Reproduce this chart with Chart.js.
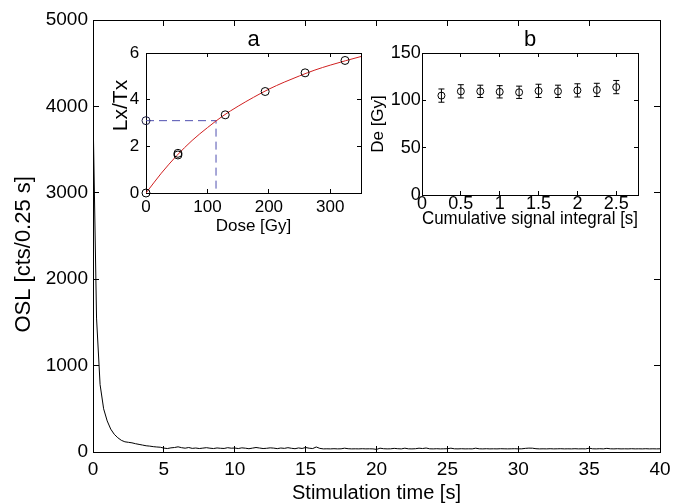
<!DOCTYPE html>
<html>
<head>
<meta charset="utf-8">
<script src="https://cdn.jsdelivr.net/npm/chart.js@4/dist/chart.umd.min.js"></script>
<style>
  html, body { margin: 0; padding: 0; background: #fff; }
  #wrap { position: relative; width: 673px; height: 504px; }
  #wrap canvas { position: absolute; left: 0; top: 0; }
</style>
</head>
<body>
<div id="wrap">
  <canvas id="mainChart" width="673" height="504"></canvas>
  <canvas id="insetA" width="673" height="504"></canvas>
  <canvas id="insetB" width="673" height="504"></canvas>
</div>
<script>
// main OSL decay curve, one value per 0.25 s channel (t = 0 ... 40 s)
const channelWidth = 0.25;
const oslCounts = [
  3950, 1550, 780, 500, 360, 265, 205, 165, 135, 118, 112, 106, 96, 88, 80, 72,
  68, 62, 58, 55, 45, 40, 48, 52, 60, 50, 44, 52, 42, 46, 40, 45,
  50, 44, 40, 47, 43, 41, 50, 44, 46, 40, 48, 44, 38, 45, 52, 46,
  40, 43, 48, 45, 39, 46, 42, 50, 43, 38, 47, 41, 52, 44, 40, 58,
  42, 36, 37, 36, 38, 36, 37, 44, 38, 36, 37, 36, 38, 36, 37, 36,
  30, 44, 38, 36, 37, 42, 38, 36, 44, 37, 36, 38, 44, 40, 46, 37,
  36, 38, 36, 37, 38, 44, 37, 36, 38, 36, 37, 36, 44, 37, 36, 38,
  36, 37, 36, 38, 37, 36, 37, 38, 36, 37, 42, 45, 44, 38, 36, 37,
  36, 38, 36, 37, 38, 36, 37, 36, 38, 36, 37, 36, 44, 37, 36, 38,
  36, 42, 37, 36, 38, 36, 37, 36, 38, 36, 37, 36, 38, 36, 37, 36,
  37
];
const timeTicks = [0, 5, 10, 15, 20, 25, 30, 35, 40];
const countTicks = [0, 1000, 2000, 3000, 4000, 5000];

// inset a: dose response
const regenDose = [0, 52, 52, 129, 194, 259, 324];
const regenLxTx = [0, 1.70, 1.63, 3.35, 4.35, 5.15, 5.68];
const fitDose = [0, 25, 50, 75, 100, 125, 150, 175, 200, 225, 250, 275, 300, 325, 350];
const fitLxTx = [0, 0.85, 1.6, 2.25, 2.8, 3.3, 3.72, 4.1, 4.45, 4.75, 5.02, 5.27, 5.48, 5.67, 5.85];
const naturalLxTx = 3.1;
const equivDose = 114;
const doseTicks = [0, 100, 200, 300];
const lxTicks = [0, 2, 4, 6];

// inset b: De vs integral
const integralTime = [0.25, 0.5, 0.75, 1.0, 1.25, 1.5, 1.75, 2.0, 2.25, 2.5];
const deValues = [105, 109.5, 109.5, 109, 108.5, 110, 109.5, 110.5, 111, 114];
const deErrors = [7, 7, 6.5, 6.5, 6.5, 7, 6.5, 7, 7, 7];
const integralTicks = [0, 0.5, 1, 1.5, 2, 2.5];
const deTicks = [0, 50, 100, 150];

const FONT = "'Liberation Sans', Arial, Helvetica, sans-serif";
Chart.defaults.font.family = FONT;
Chart.defaults.color = '#000';

// one axis of a boxed MATLAB-like frame, ticks pointing inward
function axis(o) {
  return {
    type: 'linear',
    position: o.pos,
    min: o.min,
    max: o.max,
    afterBuildTicks: s => { s.ticks = o.ticks.map(v => ({ value: v })); },
    afterFit: s => {
      if (s.isHorizontal()) s.height = o.size; else s.width = o.size;
      s.paddingLeft = s.paddingRight = s.paddingTop = s.paddingBottom = 0;
    },
    grid: {
      display: true, drawOnChartArea: false, drawTicks: true,
      tickLength: -o.tick, color: '#000', tickColor: '#000', lineWidth: 1
    },
    border: { display: true, color: '#000', width: 1 },
    ticks: {
      display: !!o.font, color: '#000', padding: o.pad || 0,
      font: o.font, maxRotation: 0, minRotation: 0, autoSkip: false,
      callback: v => String(v)
    },
    title: o.title ? {
      display: true, text: o.title, color: '#000',
      font: o.titleFont, padding: o.titlePad
    } : { display: false }
  };
}

const baseOpts = {
  responsive: false,
  animation: false,
  events: [],
  plugins: { legend: { display: false }, tooltip: { enabled: false } }
};

// main chart
new Chart(document.getElementById('mainChart'), {
  type: 'line',
  data: {
    datasets: [{
      data: oslCounts.map((v, i) => ({ x: i * channelWidth, y: v })),
      borderColor: '#000', borderWidth: 1, pointRadius: 0, tension: 0
    }]
  },
  options: {
    ...baseOpts,
    layout: { padding: { left: 0, top: 20, right: 13, bottom: 0 } },
    scales: {
      x: axis({ pos: 'bottom', min: 0, max: 40, ticks: timeTicks, size: 52, tick: 6, pad: 14.5,
        font: { size: 19, lineHeight: 1 },
        title: 'Stimulation time [s]', titleFont: { size: 20, lineHeight: 1 }, titlePad: { top: 0, bottom: 1 } }),
      x2: axis({ pos: 'top', min: 0, max: 40, ticks: timeTicks, size: 0, tick: 6 }),
      // trailing spaces push the label a little below the axis centre, as in the original
      y: axis({ pos: 'left', min: 0, max: 5000, ticks: countTicks, size: 93, tick: 6, pad: 11,
        font: { size: 19, lineHeight: 1 },
        title: 'OSL [cts/0.25 s]      ', titleFont: { size: 22, lineHeight: 1 }, titlePad: { top: 13, bottom: 0 } }),
      y2: axis({ pos: 'right', min: 0, max: 5000, ticks: countTicks, size: 0, tick: 6 })
    }
  }
});

// inset a
new Chart(document.getElementById('insetA'), {
  type: 'line',
  data: {
    datasets: [
      {
        data: regenDose.map((d, i) => ({ x: d, y: regenLxTx[i] })),
        showLine: false, pointStyle: 'circle', pointRadius: 4, pointBorderWidth: 1,
        pointBorderColor: '#000', pointBackgroundColor: 'rgba(0,0,0,0)', clip: false
      },
      {
        data: [{ x: 0, y: naturalLxTx }],
        showLine: false, pointStyle: 'circle', pointRadius: 4, pointBorderWidth: 1,
        pointBorderColor: '#1a1a40', pointBackgroundColor: 'rgba(0,0,0,0)', clip: false
      },
      {
        data: fitDose.map((d, i) => ({ x: d, y: fitLxTx[i] })),
        borderColor: '#d02020', borderWidth: 1, pointRadius: 0, cubicInterpolationMode: 'monotone'
      },
      {
        data: [{ x: 0, y: naturalLxTx }, { x: equivDose, y: naturalLxTx }, { x: equivDose, y: 0 }],
        borderColor: '#5050b0', borderWidth: 1, borderDash: [8, 5], pointRadius: 0, tension: 0
      }
    ]
  },
  options: {
    ...baseOpts,
    layout: { padding: { left: 0, top: 28, right: 312, bottom: 261 } },
    scales: {
      x: axis({ pos: 'bottom', min: 0, max: 350, ticks: doseTicks, size: 50, tick: 4, pad: 9.7,
        font: { size: 17, lineHeight: 1 },
        title: 'Dose [Gy]', titleFont: { size: 17, lineHeight: 1 }, titlePad: { top: 0, bottom: 8.5 } }),
      x2: axis({ pos: 'top', min: 0, max: 350, ticks: doseTicks, size: 25, tick: 4,
        title: 'a', titleFont: { size: 22, lineHeight: 1 }, titlePad: { top: 0.5, bottom: 0 } }),
      // leading spaces lift the label slightly above the axis centre
      y: axis({ pos: 'left', min: 0, max: 6, ticks: lxTicks, size: 146, tick: 4, pad: 10.7,
        font: { size: 17, lineHeight: 1 },
        title: '      Lx/Tx', titleFont: { size: 21, lineHeight: 1 }, titlePad: { top: 111, bottom: 0 } }),
      y2: axis({ pos: 'right', min: 0, max: 6, ticks: lxTicks, size: 0, tick: 4 })
    }
  }
});

// error bars for inset b, drawn through the chart's own scales
const errorBars = {
  id: 'errorBars',
  afterDatasetsDraw(chart) {
    const { ctx, scales: { x, y } } = chart;
    ctx.save();
    ctx.strokeStyle = '#000';
    ctx.lineWidth = 1;
    integralTime.forEach((t, i) => {
      const px = x.getPixelForValue(t);
      const lo = y.getPixelForValue(deValues[i] - deErrors[i]);
      const hi = y.getPixelForValue(deValues[i] + deErrors[i]);
      ctx.beginPath();
      ctx.moveTo(px, lo); ctx.lineTo(px, hi);
      ctx.moveTo(px - 3, lo); ctx.lineTo(px + 3, lo);
      ctx.moveTo(px - 3, hi); ctx.lineTo(px + 3, hi);
      ctx.stroke();
    });
    ctx.restore();
  }
};

new Chart(document.getElementById('insetB'), {
  type: 'line',
  data: {
    datasets: [{
      data: integralTime.map((t, i) => ({ x: t, y: deValues[i] })),
      showLine: false, pointStyle: 'circle', pointRadius: 3.5, pointBorderWidth: 1,
      pointBorderColor: '#000', pointBackgroundColor: 'rgba(0,0,0,0)', clip: false
    }]
  },
  options: {
    ...baseOpts,
    layout: { padding: { left: 360, top: 28, right: 35, bottom: 259 } },
    scales: {
      x: axis({ pos: 'bottom', min: 0, max: 2.78, ticks: integralTicks, size: 50, tick: 4, pad: 4,
        font: { size: 18, lineHeight: 1 },
        title: 'Cumulative signal integral [s]', titleFont: { size: 17.5, lineHeight: 1 }, titlePad: { top: 0, bottom: 17.5 } }),
      x2: axis({ pos: 'top', min: 0, max: 2.78, ticks: integralTicks, size: 25, tick: 4,
        title: 'b', titleFont: { size: 22, lineHeight: 1 }, titlePad: { top: 0.5, bottom: 0 } }),
      y: axis({ pos: 'left', min: 0, max: 150, ticks: deTicks, size: 62, tick: 4, pad: 5.3,
        font: { size: 18, lineHeight: 1 },
        title: 'De [Gy]', titleFont: { size: 17, lineHeight: 1 }, titlePad: { top: 9.5, bottom: 0 } }),
      y2: axis({ pos: 'right', min: 0, max: 150, ticks: deTicks, size: 0, tick: 4 })
    }
  },
  plugins: [errorBars]
});
</script>
</body>
</html>
